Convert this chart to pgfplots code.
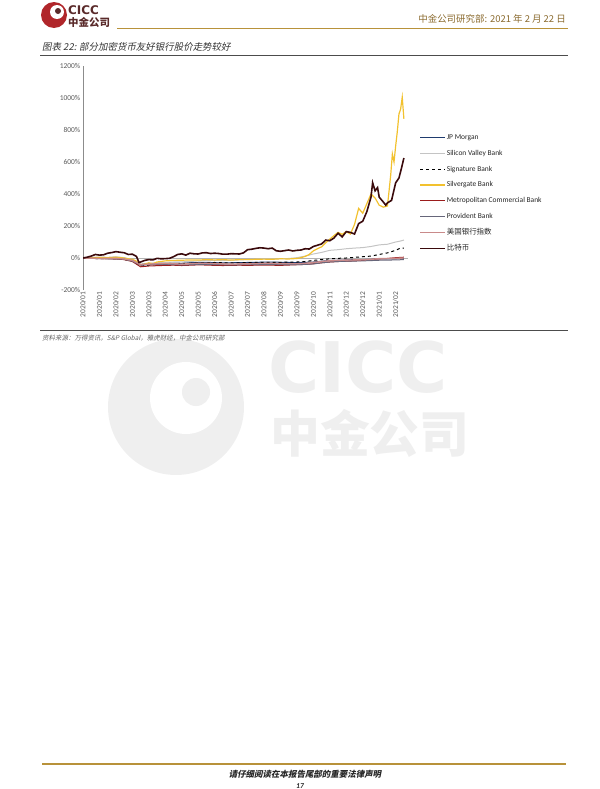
\documentclass[border=0pt]{standalone}
\usepackage{fontspec}
\setmainfont{Carlito}
\newfontfamily\cjk{Noto Sans CJK SC}
\newfontfamily\cjkit[FakeSlant=0.2]{Noto Sans CJK SC}
\newfontfamily\wmfont{DejaVu Sans}
\usepackage{pgfplots}
\pgfplotsset{compat=1.18}
\definecolor{jpm}{HTML}{1F3B6E}
\definecolor{svb}{HTML}{C4C4C4}
\definecolor{silv}{HTML}{F2C12E}
\definecolor{metro}{HTML}{9B1C1C}
\definecolor{prov}{HTML}{66667A}
\definecolor{usbk}{HTML}{C98A8A}
\definecolor{btc}{HTML}{3A0A0C}
\definecolor{goldline}{HTML}{B8923A}
\definecolor{hdr}{HTML}{8A6A2E}
\definecolor{logored}{HTML}{B0262A}
\definecolor{logotext}{HTML}{5A2A2A}
\definecolor{wm}{HTML}{EFEFEF}
\definecolor{ticktext}{HTML}{595959}
\begin{document}
\begin{tikzpicture}
\useasboundingbox (0,0) rectangle (600bp,-789bp);
% ---------- watermark ----------
\fill[wm] (176bp,-407bp) circle (68bp);
\fill[white] (186bp,-398bp) circle (36bp);
\fill[wm] (196bp,-392bp) circle (14bp);
\node[anchor=south west, inner sep=0pt, text=wm, font=\wmfont\bfseries\fontsize{70}{70}\selectfont] at (268bp,-394bp) {CICC};
\node[anchor=south west, inner sep=0pt, text=wm, font=\cjk\bfseries\fontsize{50}{50}\selectfont] at (270bp,-458bp) {中金公司};
% ---------- header ----------
\fill[logored] (54bp,-15bp) circle (13bp);
\fill[white] (57bp,-12bp) circle (7bp);
\fill[logotext] (58bp,-11bp) circle (3bp);
\node[anchor=base west, inner sep=0pt, text=logotext, font=\wmfont\bfseries\fontsize{12}{12}\selectfont] at (68bp,-14bp) {CICC};
\node[anchor=base west, inner sep=0pt, text=logotext, font=\cjk\bfseries\fontsize{10.5}{11}\selectfont] at (68bp,-26bp) {中金公司};
\draw[goldline, line width=1bp] (117bp,-28bp) -- (568bp,-28bp);
\node[anchor=base east, inner sep=0pt, text=hdr, font=\cjk\fontsize{9.5}{10}\selectfont] at (566bp,-22bp) {中金公司研究部: 2021 年 2 月 22 日};
% ---------- title ----------
\node[anchor=base west, inner sep=0pt, text=black!80, font=\cjkit\fontsize{9.5}{10}\selectfont] at (42bp,-50bp) {图表 22: 部分加密货币友好银行股价走势较好};
\draw[black!70, line width=0.6bp] (40bp,-55bp) -- (568bp,-55bp);
% ---------- source ----------
\draw[black!70, line width=0.6bp] (40bp,-330bp) -- (568bp,-330bp);
\node[anchor=base west, inner sep=0pt, text=black!60, font=\cjkit\fontsize{6.5}{7}\selectfont] at (42bp,-340bp) {资料来源：万得资讯，S\&P Global，雅虎财经，中金公司研究部};
% ---------- footer ----------
\draw[goldline, line width=1.2bp] (42bp,-764bp) -- (566bp,-764bp);
\node[anchor=base, inner sep=0pt, text=black!85, font=\cjkit\bfseries\fontsize{8.5}{9}\selectfont] at (305bp,-777bp) {请仔细阅读在本报告尾部的重要法律声明};
\node[anchor=base, inner sep=0pt, text=black!85, font=\bfseries\itshape\fontsize{7.5}{8}\selectfont] at (300bp,-788bp) {17};
% ---------- chart ----------
\begin{axis}[
  at={(83bp,-290bp)}, anchor=south west,
  scale only axis, width=325bp, height=224bp,
  xmin=0, xmax=19.75, ymin=-200, ymax=1200,
  axis lines*=left,
  x axis line style={draw=none},
  y axis line style={draw=black!45, line width=0.6bp},
  tick style={draw=none},
  xtick={0,...,19},
  xticklabels={2020/01,2020/01,2020/02,2020/03,2020/03,2020/04,2020/05,2020/05,2020/06,2020/07,2020/07,2020/08,2020/09,2020/09,2020/10,2020/11,2020/12,2020/12,2021/01,2021/02},
  xticklabel style={rotate=90, anchor=east, font=\fontsize{7.5}{8}\selectfont, text=ticktext, inner sep=1.5bp},
  ytick={-200,0,200,400,600,800,1000,1200},
  yticklabels={-200\%,0\%,200\%,400\%,600\%,800\%,1000\%,1200\%},
  yticklabel style={font=\fontsize{7.5}{8}\selectfont, text=ticktext, inner sep=2.5bp},
  legend image code/.code={\draw[#1] (0bp,0bp) -- (25bp,0bp);},
  legend cell align=left,
  legend style={at={(1.034,0.703)}, anchor=north west, draw=none, fill=none,
    font=\fontsize{7.5}{8}\selectfont, inner sep=0pt, row sep=6.9bp,
    nodes={inner sep=1bp, text height=5.5bp, text depth=1.5bp, text=black!85}},
]
\addplot[black!30, line width=0.5bp, forget plot] coordinates {(0,0) (19.75,0)};
% JP Morgan
\addplot[jpm, line width=1bp] coordinates {
(0,0)(0.5,-1)(1,-3)(1.5,-2)(2,0)(2.5,-3)(3,-15)(3.5,-40)(4,-35)(4.5,-33)(5,-30)(5.5,-32)(6,-33)(6.5,-30)(7,-28)(7.5,-27)(8,-29)(8.5,-31)(9,-30)(9.5,-29)(10,-28)(10.5,-27)(11,-26)(11.5,-25)(12,-27)(12.5,-28)(13,-29)(13.5,-27)(14,-25)(14.5,-20)(15,-15)(15.5,-14)(16,-12)(16.5,-10)(17,-10)(17.5,-8)(18,-5)(18.5,-6)(19,-5)(19.5,-2)};
\addlegendentry{JP Morgan}
% Silicon Valley Bank
\addplot[svb, line width=1bp] coordinates {
(0,0)(0.5,3)(1,6)(1.5,4)(2,8)(2.5,2)(3,-10)(3.5,-45)(4,-38)(4.5,-32)(5,-28)(5.5,-25)(6,-24)(6.5,-22)(7,-18)(7.5,-15)(8,-15)(8.5,-16)(9,-14)(9.5,-12)(10,-10)(10.5,-8)(11,-5)(11.5,-6)(12,-4)(12.5,-3)(13,2)(13.5,12)(14,25)(14.5,35)(15,48)(15.5,52)(16,58)(16.5,62)(17,65)(17.5,72)(18,82)(18.5,86)(19,100)(19.25,105)(19.5,112)};
\addlegendentry{Silicon Valley Bank}
% Signature Bank
\addplot[black, dashed, line width=1bp] coordinates {
(0,0)(0.5,-2)(1,-4)(1.5,-3)(2,-6)(2.5,-10)(3,-18)(3.5,-50)(4,-45)(4.5,-42)(5,-38)(5.5,-36)(6,-35)(6.5,-32)(7,-30)(7.5,-30)(8,-28)(8.5,-30)(9,-31)(9.5,-30)(10,-29)(10.5,-28)(11,-27)(11.5,-28)(12,-27)(12.5,-26)(13,-25)(13.5,-22)(14,-15)(14.5,-10)(15,-5)(15.5,-2)(16,0)(16.5,4)(17,8)(17.5,12)(18,22)(18.5,32)(19,48)(19.25,60)(19.5,62)};
\addlegendentry{Signature Bank}
% Silvergate Bank
\addplot[silv, line width=1.2bp] coordinates {
(0,0)(0.5,2)(1,4)(1.5,2)(2,5)(2.5,0)(2.75,-5)(3,-8)(3.25,-20)(3.5,-42)(3.75,-38)(4,-30)(4.25,-35)(4.5,-25)(5,-18)(5.5,-15)(6,-14)(6.5,-12)(7,-13)(7.5,-10)(8,-12)(8.5,-10)(9,-13)(9.5,-10)(10,-10)(10.5,-8)(11,-7)(11.5,-8)(12,-5)(12.5,-6)(13,-3)(13.25,2)(13.5,10)(13.75,22)(14,45)(14.25,58)(14.5,70)(14.75,95)(15,118)(15.25,140)(15.5,160)(15.75,148)(16,165)(16.25,150)(16.5,210)(16.75,310)(17,280)(17.25,340)(17.5,400)(17.75,375)(18,330)(18.25,318)(18.5,325)(18.6,420)(18.7,520)(18.8,650)(18.9,600)(19,700)(19.1,790)(19.2,900)(19.3,930)(19.4,1005)(19.5,870)};
\addlegendentry{Silvergate Bank}
% Metropolitan Commercial Bank
\addplot[metro, line width=1bp] coordinates {
(0,0)(0.5,-2)(1,-3)(1.5,-4)(2,-6)(2.5,-10)(3,-22)(3.5,-55)(4,-50)(4.5,-48)(5,-46)(5.5,-45)(6,-47)(6.5,-45)(7,-43)(7.5,-44)(8,-46)(8.5,-47)(9,-46)(9.5,-45)(10,-46)(10.5,-45)(11,-44)(11.5,-45)(12,-46)(12.5,-44)(13,-42)(13.5,-40)(14,-36)(14.5,-30)(15,-25)(15.5,-22)(16,-20)(16.5,-18)(17,-15)(17.5,-10)(18,-5)(18.5,-3)(19,2)(19.5,5)};
\addlegendentry{Metropolitan Commercial Bank}
% Provident Bank
\addplot[prov, line width=1bp] coordinates {
(0,0)(0.5,-2)(1,-4)(1.5,-5)(2,-6)(2.5,-8)(3,-20)(3.5,-45)(4,-42)(4.5,-40)(5,-40)(5.5,-41)(6,-43)(6.5,-42)(7,-40)(7.5,-40)(8,-41)(8.5,-42)(9,-43)(9.5,-42)(10,-42)(10.5,-41)(11,-40)(11.5,-40)(12,-41)(12.5,-42)(13,-42)(13.5,-40)(14,-37)(14.5,-30)(15,-25)(15.5,-22)(16,-20)(16.5,-19)(17,-18)(17.5,-16)(18,-14)(18.5,-13)(19,-12)(19.5,-10)};
\addlegendentry{Provident Bank}
% US bank index
\addplot[usbk, line width=1.4bp] coordinates {
(0,0)(0.5,-1)(1,-3)(1.5,-2)(2,-2)(2.5,-6)(3,-15)(3.5,-42)(4,-38)(4.5,-36)(5,-34)(5.5,-36)(6,-38)(6.5,-36)(7,-33)(7.5,-33)(8,-35)(8.5,-37)(9,-38)(9.5,-37)(10,-37)(10.5,-35)(11,-34)(11.5,-34)(12,-35)(12.5,-36)(13,-36)(13.5,-33)(14,-28)(14.5,-22)(15,-17)(15.5,-15)(16,-13)(16.5,-12)(17,-11)(17.5,-8)(18,-4)(18.5,-3)(19,-2)(19.5,0)};
\addlegendentry{\cjk 美国银行指数}
% Bitcoin
\addplot[btc, line width=1.6bp] coordinates {
(0,0)(0.25,5)(0.5,12)(0.75,22)(1,18)(1.25,20)(1.5,30)(1.75,34)(2,40)(2.25,36)(2.5,33)(2.75,22)(3,24)(3.25,10)(3.4,-28)(3.5,-25)(3.75,-15)(4,-10)(4.25,-12)(4.5,-2)(4.75,-5)(5,-4)(5.25,-2)(5.5,8)(5.75,22)(6,26)(6.25,18)(6.5,30)(6.75,26)(7,25)(7.25,32)(7.5,33)(7.75,28)(8,30)(8.25,28)(8.5,24)(8.75,24)(9,27)(9.25,26)(9.5,25)(9.75,32)(10,52)(10.25,55)(10.5,60)(10.75,64)(11,62)(11.25,58)(11.5,62)(11.75,45)(12,42)(12.25,46)(12.5,50)(12.75,44)(13,48)(13.25,50)(13.5,58)(13.75,56)(14,72)(14.25,80)(14.5,88)(14.75,112)(15,108)(15.25,125)(15.5,155)(15.75,132)(16,165)(16.25,160)(16.5,150)(16.75,215)(17,230)(17.25,290)(17.5,380)(17.6,470)(17.75,420)(17.9,440)(18,380)(18.25,350)(18.4,330)(18.5,345)(18.75,360)(19,470)(19.2,500)(19.35,560)(19.5,625)};
\addlegendentry{\cjk 比特币}
\end{axis}
\end{tikzpicture}
\end{document}
